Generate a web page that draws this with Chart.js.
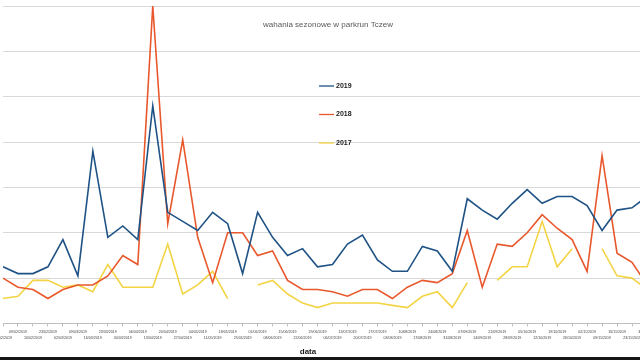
<!DOCTYPE html>
<html>
<head>
<meta charset="utf-8">
<script src="https://cdn.jsdelivr.net/npm/chart.js@4/dist/chart.umd.min.js"></script>
<style>
  html, body { margin: 0; padding: 0; background: #fff; overflow: hidden; }
  #wrap { position: relative; width: 640px; height: 360px; overflow: hidden; }
  #box { position: absolute; left: -20px; top: 0; width: 690px; height: 360px; }
  #edge { position: absolute; left: 0; top: 357px; width: 640px; height: 3px; background: #161616; }
</style>
</head>
<body>
<div id="wrap">
  <div id="box"><canvas id="chart"></canvas></div>
  <div id="edge"></div>
</div>
<script>
// weekly parkrun dates (crop shows 02/02 .. 30/11)
const dates = [
  '02/02/2019', '09/02/2019', '16/02/2019', '23/02/2019', '02/03/2019', '09/03/2019',
  '16/03/2019', '23/03/2019', '30/03/2019', '06/04/2019', '13/04/2019', '20/04/2019',
  '27/04/2019', '04/05/2019', '11/05/2019', '18/05/2019', '25/05/2019', '01/06/2019',
  '08/06/2019', '15/06/2019', '22/06/2019', '29/06/2019', '06/07/2019', '13/07/2019',
  '20/07/2019', '27/07/2019', '03/08/2019', '10/08/2019', '17/08/2019', '24/08/2019',
  '31/08/2019', '07/09/2019', '14/09/2019', '21/09/2019', '28/09/2019', '05/10/2019',
  '12/10/2019', '19/10/2019', '26/10/2019', '02/11/2019', '09/11/2019', '16/11/2019',
  '23/11/2019', '30/11/2019'
];

const runners2019 = [25, 22, 22, 25, 37, 21, 76, 38, 43, 37, 96, 49, 45, 41, 49, 44, 22, 49, 38, 30, 33, 25,
                     26, 35, 39, 28, 23, 23, 34, 32, 23, 55, 50, 46, 53, 59, 53, 56, 56, 52, 41, 50, 51, 56];
const runners2018 = [20, 16, 15, 11, 15, 17, 17, 21, 30, 26, 140, 44, 81, 38, 18, 40, 40, 30, 32, 19, 15, 15,
                     14, 12, 15, 15, 11, 16, 19, 18, 22, 41, 16, 35, 34, 40, 48, 42, 37, 23, 74, 31, 27, 17];
const runners2017 = [11, 12, 19, 19, 16, 17, 14, 26, 16, 16, 16, 35, 13, 17, 23, 11, null, 17, 19, 13, 9, 7,
                     9, 9, 9, 9, 8, 7, 12, 14, 7, 18, null, 19, 25, 25, 45, 25, 33, null, 33, 21, 20, 15];

const seriesNames = ['2019', '2018', '2017'];
const seriesColors = ['#1f5285', '#e8582c', '#f3d444'];
const yTicks = [0, 20, 40, 60, 80, 100, 120, 140];

const chartTitle = 'wahania sezonowe w parkrun Tczew';
const axisTitle = 'data';

const SHIFT = 20; // canvas is offset left, like the cropped original

// title, legend and axis name sit inside the plot like in the Excel image
const overlayText = {
    id: 'overlayText',
    afterDraw(chart) {
        const ctx = chart.ctx;
        ctx.save();
        ctx.textBaseline = 'middle';

        ctx.font = '8px "Liberation Sans", Arial, sans-serif';
        ctx.fillStyle = '#595959';
        ctx.textAlign = 'center';
        ctx.fillText(chartTitle, SHIFT + 328, 25);

        ctx.font = 'bold 7px "Liberation Sans", Arial, sans-serif';
        ctx.textAlign = 'left';
        chart.data.datasets.forEach((ds, i) => {
            const y = 86 + i * 28.5;
            ctx.strokeStyle = ds.borderColor;
            ctx.lineWidth = 1.3;
            ctx.beginPath();
            ctx.moveTo(SHIFT + 319, y);
            ctx.lineTo(SHIFT + 334, y);
            ctx.stroke();
            ctx.fillStyle = '#1a1a1a';
            ctx.fillText(ds.label, SHIFT + 336, y);
        });

        ctx.font = 'bold 8px "Liberation Sans", Arial, sans-serif';
        ctx.textAlign = 'center';
        ctx.fillStyle = '#1a1a1a';
        ctx.fillText(axisTitle, SHIFT + 308, 352);
        ctx.restore();
    }
};

const allSeries = [runners2019, runners2018, runners2017];

new Chart(document.getElementById('chart'), {
    type: 'line',
    data: {
        labels: dates,
        datasets: allSeries.map((d, i) => ({
            label: seriesNames[i],
            data: d,
            borderColor: seriesColors[i],
            backgroundColor: seriesColors[i],
            borderWidth: 1.6,
            pointRadius: 0,
            tension: 0,
            spanGaps: false,
            fill: false
        }))
    },
    options: {
        responsive: true,
        maintainAspectRatio: false,
        animation: false,
        layout: { padding: { left: 23, right: 23, top: 6, bottom: 16 } },
        plugins: {
            legend: { display: false },
            tooltip: { enabled: false }
        },
        scales: {
            x: {
                offset: false,
                grid: { drawOnChartArea: false, drawTicks: true, tickLength: 3, color: '#bfbfbf' },
                border: { color: '#bfbfbf' },
                ticks: {
                    autoSkip: false,
                    maxRotation: 0,
                    minRotation: 0,
                    padding: 3,
                    color: '#404040',
                    font: { family: '"Liberation Sans", Arial, sans-serif', size: 3.6, lineHeight: 1.6 },
                    callback: (v, i) => i % 2 === 0 ? ['', dates[i]] : [dates[i], '']
                }
            },
            y: {
                min: yTicks[0],
                max: yTicks[yTicks.length - 1],
                afterBuildTicks: (axis) => { axis.ticks = yTicks.map(v => ({ value: v })); },
                grid: { color: '#d9d9d9', lineWidth: 1, drawTicks: false },
                border: { display: false },
                ticks: { display: false, padding: 0 }
            }
        }
    },
    plugins: [overlayText]
});
</script>
</body>
</html>
